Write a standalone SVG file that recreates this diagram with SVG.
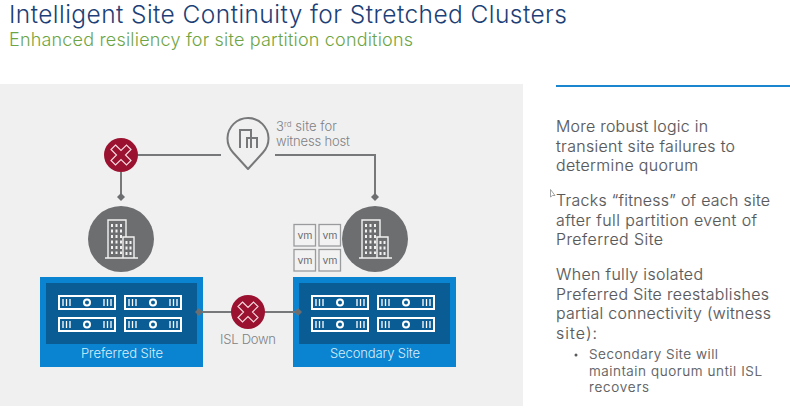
<svg xmlns="http://www.w3.org/2000/svg" xmlns:xlink="http://www.w3.org/1999/xlink" width="790" height="413" viewBox="0 0 790 413">
<style>
text{font-family:"Inter","Liberation Sans",sans-serif}
.body{font-size:15.900px;fill:#58595b;font-weight:300;stroke:#58595b;stroke-width:.15}
.sub{font-size:13.500px;fill:#58595b;font-weight:300;stroke:#58595b;stroke-width:.15}
.lbl{font-size:13px;fill:#808184;font-weight:300}
.site{font-size:13px;fill:#d8eefa;font-weight:300}
.vm{font-size:10.500px;fill:#6d6e70;text-anchor:middle}
.conn{fill:none;stroke:#77787a;stroke-width:2}
.dia{fill:#6d6e70}
.sv{fill:#0a5c94;stroke:#fff;stroke-width:2}
.b{stroke:#fff;stroke-width:1.3;fill:none}
.w{fill:none;stroke:#f2f2f2;stroke-width:1.4}
.vb{fill:#f2f2f2;stroke:#9a9b9d;stroke-width:1.3}
</style>
<defs>
<g id="server">
<rect class="sv" x="1" y="1" width="56" height="13"/>
<path class="b" d="M5 4v7M8.500 4v7M12 4v7M46 4v7M49.500 4v7M53 4v7"/>
<circle cx="29" cy="7.500" r="3" fill="none" stroke="#fff" stroke-width="2"/>
</g>
<g id="servers">
<use xlink:href="#server" href="#server" x="0" y="0"/>
<use xlink:href="#server" href="#server" x="66" y="0"/>
<use xlink:href="#server" href="#server" x="0" y="22"/>
<use xlink:href="#server" href="#server" x="66" y="22"/>
</g>
<g id="bld">
<circle r="33" fill="#6d6e70"/>
<path class="w" d="M-16 19H17M-13 19V-19H5V-2M2 19V-2H13V19"/>
<path d="M-9-15v30M-4.500-15v30M0-15v30M5.500 2v15M9.500 2v15" stroke="#f2f2f2" stroke-width="2" stroke-dasharray="3 2.500" fill="none"/>
</g>
<g id="x">
<circle r="17" fill="#9b1230"/>
<path d="M-5.500-10 0-4.500 5.500-10 10-5.500 4.500 0 10 5.500 5.500 10 0 4.500-5.500 10-10 5.500-4.500 0-10-5.500Z" fill="none" stroke="#f3d9de" stroke-width="1.200"/>
</g>
<path id="d" class="dia" d="M0-4 4 0 0 4-4 0Z"/>
</defs>
<rect width="790" height="413" fill="#fff"/>
<rect x="0" y="84" width="523" height="322" fill="#f0f0f0"/>
<text x="9" y="22.500" fill="#1c3f77" font-weight="300" textLength="558" lengthAdjust="spacing" style="font-size:24.500px">Intelligent Site Continuity for Stretched Clusters</text>
<text x="9" y="46" fill="#6ea544" font-weight="300" textLength="404" lengthAdjust="spacing" style="font-size:18px">Enhanced resiliency for site partition conditions</text>

<g id="witness">
<path d="M248 169 L233 152.500A20.500 20.500 0 1 1 263 152.500Z" fill="none" stroke="#77787a" stroke-width="2" stroke-linejoin="round"/>
<path d="M240 148V130H251V148M251 138H257V148M247 148V138H251" fill="none" stroke="#77787a" stroke-width="2"/>
<text class="lbl" x="276" y="131" textLength="61">3<tspan font-size="8" dy="-4">rd</tspan><tspan dy="4"> site for</tspan></text>
<text class="lbl" x="276" y="146" textLength="74">witness host</text>
</g>

<g id="building-preferred"><use xlink:href="#bld" href="#bld" x="121" y="239"/></g>
<g id="building-secondary"><use xlink:href="#bld" href="#bld" x="375" y="239"/></g>

<g id="vms">
<rect class="vb" x="294" y="224.500" width="21.500" height="21.500"/>
<rect class="vb" x="319" y="224.500" width="21.500" height="21.500"/>
<rect class="vb" x="294" y="249.500" width="21.500" height="21.500"/>
<rect class="vb" x="319" y="249.500" width="21.500" height="21.500"/>
<text class="vm" x="305" y="239">vm</text>
<text class="vm" x="330" y="239">vm</text>
<text class="vm" x="305" y="264">vm</text>
<text class="vm" x="330" y="264">vm</text>
</g>

<g id="preferred-site">
<rect x="40" y="277" width="163" height="90" fill="#0a84d0"/>
<rect x="46" y="283" width="151" height="61" fill="#0a5c94"/>
<use xlink:href="#servers" href="#servers" x="58" y="295"/>
<text class="site" x="81" y="358" textLength="82">Preferred Site</text>
</g>
<g id="secondary-site">
<rect x="293" y="277" width="163" height="90" fill="#0a84d0"/>
<rect x="299" y="283" width="151" height="61" fill="#0a5c94"/>
<use xlink:href="#servers" href="#servers" x="311" y="295"/>
<text class="site" x="330" y="358" textLength="90">Secondary Site</text>
</g>

<g id="connectors">
<path class="conn" d="M121 172V197"/>
<path class="conn" d="M138 155H221"/>
<path class="conn" d="M275 155H375V195"/>
<path class="conn" d="M200 312H297"/>
<use xlink:href="#d" href="#d" x="121" y="197"/>
<use xlink:href="#d" href="#d" x="375" y="197"/>
<use xlink:href="#d" href="#d" x="199" y="312"/>
<use xlink:href="#d" href="#d" x="298" y="312"/>
</g>

<g id="fail-witness"><use xlink:href="#x" href="#x" x="121" y="155"/></g>
<g id="isl">
<use xlink:href="#x" href="#x" x="248" y="312"/>
<text class="lbl" x="220" y="344" textLength="56">ISL Down</text>
</g>

<g id="side">
<rect x="556" y="85" width="234" height="2" fill="#1a86cf"/>
<text class="body" x="556" y="132" textLength="152">More robust logic in</text>
<text class="body" x="556" y="151.500" textLength="179">transient site failures to</text>
<text class="body" x="556" y="171" textLength="142">determine quorum</text>
<path d="M550.500 189.500V197L552.500 195.500H555Z" fill="#fff" stroke="#8a8b8d" stroke-width=".8"/>
<text class="body" x="556" y="206" textLength="214">Tracks “fitness” of each site</text>
<text class="body" x="556" y="225.500" textLength="201">after full partition event of</text>
<text class="body" x="556" y="245" textLength="107">Preferred Site</text>
<text class="body" x="556" y="280" textLength="147">When fully isolated</text>
<text class="body" x="556" y="299.500" textLength="213">Preferred Site reestablishes</text>
<text class="body" x="556" y="319" textLength="215">partial connectivity (witness</text>
<text class="body" x="556" y="338.500" textLength="41">site):</text>
<circle cx="576" cy="355" r="1.500" fill="#58595b"/>
<text class="sub" x="589" y="359" textLength="129">Secondary Site will</text>
<text class="sub" x="589" y="375.500" textLength="173">maintain quorum until ISL</text>
<text class="sub" x="589" y="392" textLength="60">recovers</text>
</g>
</svg>
